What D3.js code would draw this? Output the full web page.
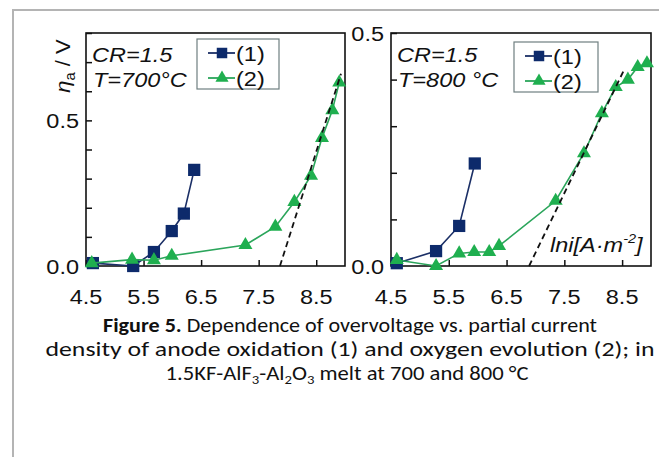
<!DOCTYPE html>
<html><head><meta charset="utf-8">
<script src="https://cdn.jsdelivr.net/npm/d3@7"></script>
<style>html,body{margin:0;padding:0;background:#fff;}svg{display:block;}</style>
</head><body>
<svg id="c" width="659" height="457"></svg>
<script>
// ---------- data ----------
const xTicks = [4.5, 5.5, 6.5, 7.5, 8.5];
const yTicksLeft = [0, 0.1, 0.2, 0.3, 0.4, 0.5, 0.6, 0.7, 0.8];
const yTicksRight = [0, 0.1, 0.2, 0.3, 0.4, 0.5];
const yLabeled = [0, 0.5];

// 700 °C panel
const s1_700 = [[4.62,0.01],[5.32,0.0],[5.68,0.048],[5.99,0.12],[6.2,0.18],[6.38,0.33]];
const s2_700 = [[4.6,0.01],[5.3,0.022],[5.68,0.02],[5.99,0.035],[7.27,0.072],[7.79,0.135],[8.12,0.22],[8.41,0.31],[8.6,0.44],[8.78,0.535],[8.9,0.63]];
const tafel_700 = [[7.87,0],[8.93,0.66]];
// 800 °C panel
const s1_800 = [[4.6,0.006],[5.28,0.032],[5.68,0.086],[5.95,0.22]];
const s2_800 = [[4.6,0.013],[5.28,0.0],[5.68,0.027],[5.94,0.03],[6.2,0.03],[6.37,0.043],[7.35,0.14],[7.84,0.242],[8.15,0.328],[8.39,0.384],[8.6,0.4],[8.77,0.427],[8.93,0.435]];
const tafel_800 = [[6.89,0],[8.53,0.42]];

const legendLabels = ["(1)", "(2)"];

// ---------- drawing ----------
const svg = d3.select("#c");
const NAVY = "#0d2a6b", NAVYLINE = "#1b2f66", GREEN = "#1faf4f", GREENLINE = "#2ba55b";
const SX = 1.12; // horizontal stretch of chart text

svg.append("rect").attr("x",13).attr("y",10).attr("width",700).attr("height",500)
  .attr("fill","none").attr("stroke","#b4b4b4").attr("stroke-width",2);

function stext(g, x, y, anchor, size, italic) {
  const t = g.append("text").attr("transform",`translate(${x},${y}) scale(${SX},1)`)
    .attr("text-anchor",anchor).attr("font-family","Liberation Sans, Arial, sans-serif")
    .attr("font-size",size).attr("fill","#111");
  if (italic) t.attr("font-style","italic");
  return t;
}

function panel(cfg) {
  const g = svg.append("g");
  const x = d3.scaleLinear().domain([4.5, 9.0]).range([cfg.x0, cfg.x1]);
  const y = d3.scaleLinear().domain([0, cfg.ymax]).range([cfg.y1, cfg.y0]);
  // x axis (ticks inside)
  const xa = g.append("g").attr("transform",`translate(0,${cfg.y1})`)
    .call(d3.axisBottom(x).tickValues(xTicks).tickSizeInner(-6).tickSizeOuter(0).tickFormat(""));
  xa.select(".domain").remove();
  xa.selectAll("line").attr("stroke","#111").attr("stroke-width",1.5);
  const ya = g.append("g").attr("transform",`translate(${cfg.x0},0)`)
    .call(d3.axisLeft(y).tickValues(cfg.yTicks).tickSizeInner(-6).tickSizeOuter(0).tickFormat(""));
  ya.select(".domain").remove();
  ya.selectAll("line").attr("stroke","#111").attr("stroke-width",1.5);
  // tick labels
  xTicks.forEach(v => stext(g, x(v), 304, "middle", 21).text(d3.format(".1f")(v)));
  yLabeled.forEach(v => stext(g, cfg.x0 - 7, y(v) + 8, "end", 21).text(d3.format(".1f")(v)));
  // frame
  g.append("rect").attr("x",cfg.x0).attr("y",cfg.y0).attr("width",cfg.x1-cfg.x0).attr("height",cfg.y1-cfg.y0)
    .attr("fill","none").attr("stroke","#111").attr("stroke-width",1.6);

  const line = d3.line().x(d=>x(d[0])).y(d=>y(d[1]));
  const clip = "clip" + cfg.id;
  g.append("clipPath").attr("id",clip).append("rect")
    .attr("x",cfg.x0-8).attr("y",cfg.y0-8).attr("width",cfg.x1-cfg.x0+16).attr("height",cfg.y1-cfg.y0+16);
  const pg = g.append("g").attr("clip-path",`url(#${clip})`);
  // series 1
  pg.append("path").attr("d",line(cfg.s1)).attr("fill","none").attr("stroke",NAVYLINE).attr("stroke-width",1.6);
  pg.selectAll(".sq").data(cfg.s1).join("path")
    .attr("d",d3.symbol(d3.symbolSquare,150)()).attr("transform",d=>`translate(${x(d[0])},${y(d[1])})`).attr("fill",NAVY);
  // series 2
  pg.append("path").attr("d",line(cfg.s2)).attr("fill","none").attr("stroke",GREENLINE).attr("stroke-width",1.6);
  pg.selectAll(".tr").data(cfg.s2).join("path")
    .attr("d",d3.symbol(d3.symbolTriangle,85)()).attr("transform",d=>`translate(${x(d[0])},${y(d[1])})`).attr("fill",GREEN);
  // tafel dashed line
  pg.append("path").attr("d",line(cfg.tafel)).attr("fill","none").attr("stroke","#111")
    .attr("stroke-width",1.8).attr("stroke-dasharray","6,4");

  // annotations
  stext(g, cfg.x0 + 6, 62, "start", 21, true).text("CR=1.5");
  stext(g, cfg.x0 + 7, 87, "start", 21, true).text(cfg.tLabel);

  // legend
  const lg = g.append("g");
  lg.append("rect").attr("x",cfg.lx).attr("y",cfg.ly).attr("width",cfg.lw).attr("height",50)
    .attr("fill","#fff").attr("stroke","#6f7f80").attr("stroke-width",1.2);
  [[NAVYLINE, NAVY, d3.symbolSquare, 110],[GREENLINE, GREEN, d3.symbolTriangle, 75]].forEach((s,i)=>{
    const ry = cfg.ly + 14 + i*25;
    lg.append("line").attr("x1",cfg.lx+11).attr("x2",cfg.lx+38).attr("y1",ry).attr("y2",ry)
      .attr("stroke",s[0]).attr("stroke-width",1.8);
    lg.append("path").attr("d",d3.symbol(s[2],s[3])()).attr("transform",`translate(${cfg.lx+25},${ry})`).attr("fill",s[1]);
    stext(lg, cfg.lx+39, ry+8, "start", 21).text(legendLabels[i]);
  });
  return {g, x, y};
}

const L = panel({id:"a", x0:86, x1:345, y0:33, y1:266, ymax:0.8, yTicks:yTicksLeft,
  s1:s1_700, s2:s2_700, tafel:tafel_700, tLabel:"T=700°C", lx:197, ly:39, lw:82});
const R = panel({id:"b", x0:391, x1:651, y0:33, y1:266, ymax:0.5, yTicks:yTicksRight,
  s1:s1_800, s2:s2_800, tafel:tafel_800, tLabel:"T=800 °C", lx:514, ly:42, lw:84});

// y axis title (left)
const yt = svg.append("text").attr("transform","translate(70,66) rotate(-90) scale(1.05,1)")
  .attr("text-anchor","middle").attr("font-family","Liberation Sans, Arial, sans-serif")
  .attr("font-size",21).attr("fill","#111");
yt.append("tspan").attr("font-style","italic").text("η");
yt.append("tspan").attr("font-size",14).attr("dy",5).text("a");
yt.append("tspan").attr("dy",-5).text(" / V");

// ln i label (right)
const li = stext(svg, 550, 252, "start", 21, true);
li.append("tspan").text("lni[A·m");
li.append("tspan").attr("font-size",13).attr("dy",-9).text("-2");
li.append("tspan").attr("dy",9).text("]");

// caption
const cap = svg.append("g").attr("font-family","Carlito, Calibri, 'Open Sans', Lato, sans-serif").attr("font-size",20).attr("fill","#111");
const c1 = cap.append("text").attr("x",350).attr("y",332).attr("text-anchor","middle");
c1.append("tspan").attr("font-weight","bold").text("Figure 5.");
c1.append("tspan").text(" Dependence of overvoltage vs. partial current");
const c2 = cap.append("text").attr("x",350).attr("y",356).attr("text-anchor","middle")
  .text("density of anode oxidation (1) and oxygen evolution (2); in");
const c3 = cap.append("text").attr("x",347).attr("y",380).attr("text-anchor","middle");
c3.append("tspan").text("1.5KF-AlF");
c3.append("tspan").attr("font-size",13).attr("dy",4).text("3");
c3.append("tspan").attr("dy",-4).text("-Al");
c3.append("tspan").attr("font-size",13).attr("dy",4).text("2");
c3.append("tspan").attr("dy",-4).text("O");
c3.append("tspan").attr("font-size",13).attr("dy",4).text("3");
c3.append("tspan").attr("dy",-4).text(" melt at 700 and 800 °C");
[[c1,494],[c2,609],[c3,363]].forEach(([t,w])=>{
  t.attr("textLength",w).attr("lengthAdjust","spacingAndGlyphs");
});
</script>
</body></html>
